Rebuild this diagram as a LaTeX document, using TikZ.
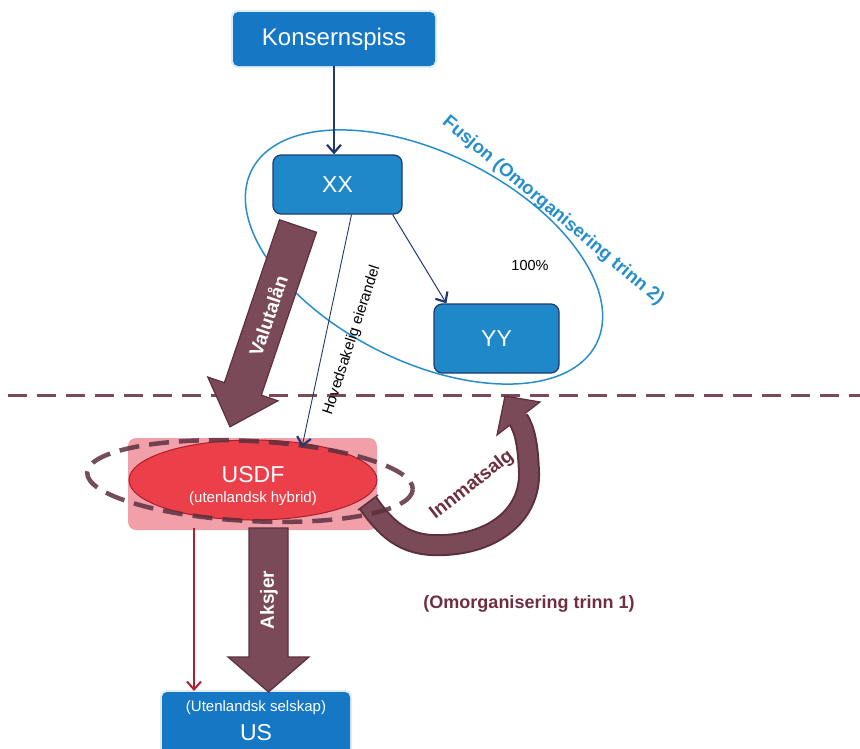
\documentclass[tikz,border=0pt]{standalone}
\usepackage{fontspec}
\setmainfont{Liberation Sans}
\usetikzlibrary{arrows.meta,shapes.geometric,calc}

\definecolor{boxblue}{RGB}{22,120,196}
\definecolor{nodeblue}{RGB}{30,136,200}
\definecolor{navy}{RGB}{32,58,112}
\definecolor{fusblue}{RGB}{38,142,204}
\definecolor{plum}{RGB}{123,74,89}
\definecolor{plumdark}{RGB}{92,48,62}
\definecolor{plumtext}{RGB}{110,48,62}
\definecolor{pinkbg}{RGB}{241,160,170}
\definecolor{usdfred}{RGB}{235,64,74}
\definecolor{usdfedge}{RGB}{170,30,42}
\definecolor{arrowred}{RGB}{178,30,42}

\begin{document}
\begin{tikzpicture}[x=1pt,y=-1pt,
  every node/.style={inner sep=0pt},
  topbox/.style={fill=boxblue, rounded corners=5pt, text=white},
  halo/.style={fill=boxblue!35, opacity=.4, rounded corners=7pt},
  entity/.style={fill=nodeblue, draw=navy, line width=1.2pt, rounded corners=8pt,
    text=white, font=\fontsize{23}{27}\selectfont},
  navyline/.style={draw=navy, line width=#1,
    -{Straight Barb[length=8pt,width=14pt,line width=2.2pt]}},
  bigarrow/.style={fill=plum, draw=plumdark, line width=1.2pt, line join=miter},
  arrowlabel/.style={text=white, font=\bfseries\fontsize{19}{22}\selectfont},
  plumlabel/.style={text=plumtext, font=\bfseries\fontsize{18}{22}\selectfont}
]
\useasboundingbox (0,0) rectangle (860,748);

% merger ellipse around XX and YY
\draw[fusblue, line width=1.5pt, rotate around={-26.7:(424,257)}]
  (424,257) ellipse [x radius=193, y radius=104];
\node[text=fusblue, font=\bfseries\fontsize{18.5}{22}\selectfont, rotate=-40]
  (fusjon) at (553,211) {Fusjon (Omorganisering trinn 2)};

% border line
\draw[plum, line width=3pt, dash pattern=on 19pt off 10pt] (8,395) -- (860,395);

% parent company
\fill[halo] (231,10) rectangle (437,68);
\node[topbox, minimum width=202, minimum height=54,
  font=\fontsize{24}{28}\selectfont] (konsern) at (334,39) {Konsernspiss};

% group entities
\node[entity, minimum width=129, minimum height=59] (xx) at (337.5,184.5) {XX};
\node[entity, minimum width=125, minimum height=69] (yy) at (496.5,338.5) {YY};

\draw[navyline=2.2pt] (konsern.south) -- (konsern.south |- xx.north);
\draw[navyline=1pt] ([xshift=-10]xx.south east) -- ([xshift=13]yy.north west);
\node[font=\fontsize{14.5}{17}\selectfont] (pct) at (530,266) {100\%};

% currency loan arrow
\begin{scope}[shift={(298,226)}, rotate=-18.7]
  \path[bigarrow] (-19.5,0) -- (19.5,0) -- (19.5,172) -- (37,172) -- (0,212)
    -- (-37,172) -- (-19.5,172) -- cycle;
  \coordinate (valpos) at (0,95);
\end{scope}
\node[arrowlabel, rotate=71.3] (valutalan) at (valpos) {Valutalån};

% foreign hybrid
\fill[pinkbg, rounded corners=8pt] (128,438) rectangle (377,530);
\node[ellipse, fill=usdfred, draw=usdfedge, line width=1pt,
  minimum width=248, minimum height=80] (usdf) at (253,480) {};
\node[text=white, font=\fontsize{23}{27}\selectfont] (usdfname) at (253,475) {USDF};
\node[text=white, font=\fontsize{15}{18}\selectfont] (usdfsub) at (253,499) {(utenlandsk hybrid)};

% sale arrow from USDF up to YY
\coordinate (salgStart) at (368,503);
\coordinate (salgEnd) at (518,419);
\draw[plumdark, line width=22pt] (salgStart) .. controls (390,535) and (410,547) .. (445,545)
  .. controls (500,542) and (530,510) .. (529,473)
  .. controls (528,445) and (525,430) .. (salgEnd);
\draw[plum, line width=18pt] (salgStart) .. controls (390,535) and (410,547) .. (445,545)
  .. controls (500,542) and (530,510) .. (529,473);
\path[bigarrow] (497,435) -- (505,396) -- (540,402) -- cycle;
\draw[plum, line width=18pt] (529,473) .. controls (528,445) and (525,430) .. (salgEnd) -- (514.2,413.1);
\draw[plumdark, line width=1.5pt] (378,495) -- (358,510);
\node[plumlabel, font=\bfseries\fontsize{19}{22}\selectfont, rotate=38] (innmat) at (472,485) {Innmatsalg};

% dashed outline round USDF
\draw[plumdark, opacity=.85, line width=4.5pt, dash pattern=on 20pt off 10pt,
  rotate around={-3:(250,481)}] (250,481) ellipse [x radius=163, y radius=40];

% ownership line XX -> USDF
\coordinate (eierEnd) at (302,447);
\draw[navyline=0.9pt] ([xshift=14]xx.south) -- (eierEnd);
\node[font=\fontsize{15}{18}\selectfont, rotate=72] (eier) at (352,340) {Hovedsakelig eierandel};

% foreign company
\fill[halo] (160,690) rectangle (352,760);
\node[topbox, minimum width=188, minimum height=70] (us) at (256,727) {};
\node[text=white, font=\fontsize{15}{18}\selectfont] (usname) at (256,708) {(Utenlandsk selskap)};
\node[text=white, font=\fontsize{23}{27}\selectfont] (uslabel) at (256,733) {US};

% shares arrow and ownership line down to US
\path[bigarrow] (249,528) -- (288,528) -- (288,657) -- (309,657) -- (268.5,692)
  -- (228,657) -- (249,657) -- cycle;
\node[arrowlabel, rotate=90] (aksjer) at (269,600) {Aksjer};
\draw[draw=arrowred, line width=1.5pt,
  -{Straight Barb[length=8pt,width=14pt,line width=2pt]}] (194,528) -- (194,691);

\node[plumlabel] (trinn1) at (529,604) {(Omorganisering trinn 1)};
\end{tikzpicture}
\end{document}
